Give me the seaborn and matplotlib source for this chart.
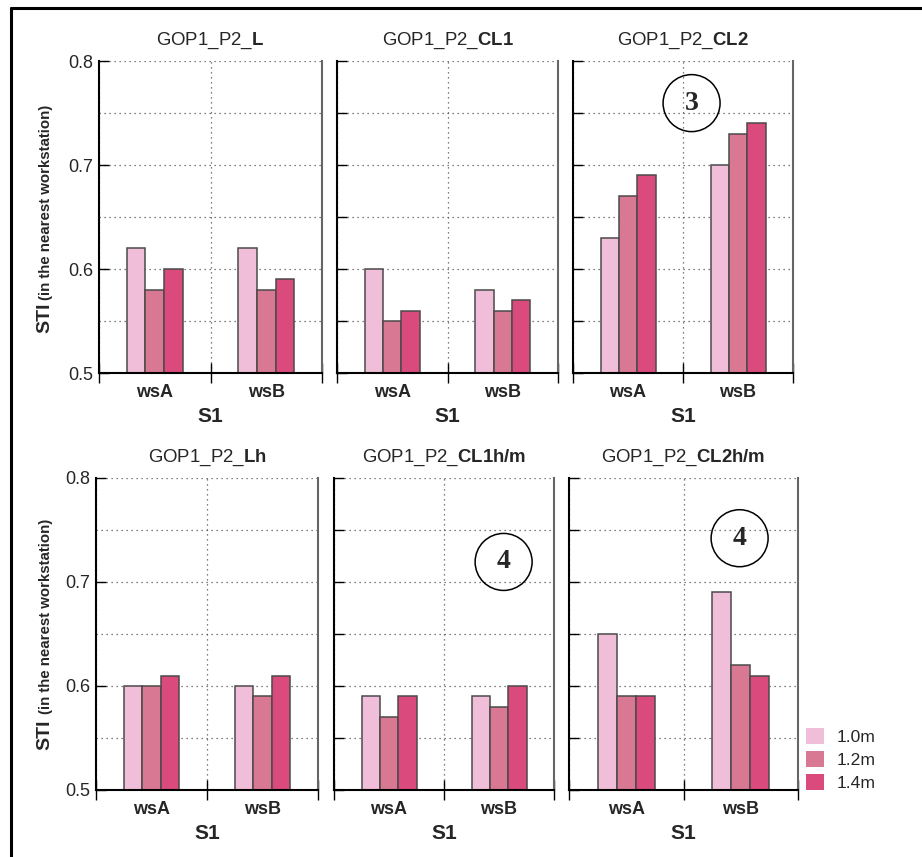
import matplotlib
matplotlib.use("Agg")
import numpy as np
import pandas as pd
import matplotlib.pyplot as plt
import seaborn as sns
from matplotlib.patches import Ellipse, Patch
from matplotlib.lines import Line2D
from matplotlib.ticker import FixedLocator

sns.set_theme(style="white")
plt.rcParams["font.family"] = ["Liberation Sans", "DejaVu Sans"]
plt.rcParams["mathtext.fontset"] = "custom"
plt.rcParams["mathtext.rm"] = "Liberation Sans"
plt.rcParams["mathtext.bf"] = "Liberation Sans:bold"

# ---- data -------------------------------------------------------------
workstations = ["wsA", "wsB"]
heights = ["1.0m", "1.2m", "1.4m"]
colors = ["#F0BED8", "#D97892", "#DB4A7C"]
configs = ["L", "CL1", "CL2", "Lh", "CL1h/m", "CL2h/m"]

# STI per workstation, one value per receiver height (1.0m, 1.2m, 1.4m)
sti_L = [[0.62, 0.58, 0.60], [0.62, 0.58, 0.59]]
sti_CL1 = [[0.60, 0.55, 0.56], [0.58, 0.56, 0.57]]
sti_CL2 = [[0.63, 0.67, 0.69], [0.70, 0.73, 0.74]]
sti_Lh = [[0.60, 0.60, 0.61], [0.60, 0.59, 0.61]]
sti_CL1hm = [[0.59, 0.57, 0.59], [0.59, 0.58, 0.60]]
sti_CL2hm = [[0.65, 0.59, 0.59], [0.69, 0.62, 0.61]]
panel_values = [sti_L, sti_CL1, sti_CL2, sti_Lh, sti_CL1hm, sti_CL2hm]

# circled group markers: panel index -> (label, x, y in axes fraction)
markers = {2: ("3", 0.539, 0.865), 4: ("4", 0.771, 0.731), 5: ("4", 0.745, 0.807)}

# ---- layout (pixels: left, top, width, height) -------------------------
W, H = 922, 857
boxes = [(99, 61, 223, 312), (337, 61, 221, 312), (573, 61, 220, 312),
         (96, 478, 222, 312), (334, 478, 220, 312), (569, 478, 229, 312)]

fig = plt.figure(figsize=(W / 100, H / 100), dpi=100)
fig.patch.set_facecolor("white")

grid_kw = dict(color="#555555", linestyle=(0, (1, 3)), linewidth=0.9)

for i, (cfg, vals, (l, t, w, h)) in enumerate(zip(configs, panel_values, boxes)):
    ax = fig.add_axes([l / W, 1 - (t + h) / H, w / W, h / H])
    df = pd.DataFrame({
        "ws": np.repeat(workstations, len(heights)),
        "height": heights * len(workstations),
        "sti": np.ravel(vals),
    })
    sns.barplot(data=df, x="ws", y="sti", hue="height", hue_order=heights,
                palette=colors, saturation=1, width=0.5, edgecolor="#4a4a4a",
                linewidth=1.1, legend=False, ax=ax)
    ax.set_xlim(-0.5, 1.5)
    ax.set_ylim(0.5, 0.8)
    ax.set_axisbelow(True)

    first_col = i in (0, 3)
    ax.yaxis.set_major_locator(FixedLocator([0.5, 0.6, 0.7, 0.8]))
    ax.yaxis.set_minor_locator(FixedLocator([0.55, 0.65, 0.75]))
    ax.grid(True, axis="y", which="both", **grid_kw)
    ax.tick_params(axis="y", which="major", direction="in", length=7,
                   width=1, color="black", left=True, right=False,
                   labelleft=first_col, labelsize=13, pad=4)
    ax.tick_params(axis="y", which="minor", direction="in",
                   length=0 if first_col else 7, width=1, color="black",
                   left=True, right=False)

    ax.xaxis.set_minor_locator(FixedLocator([-0.5, 0.5, 1.5]))
    ax.tick_params(axis="x", which="major", length=0, pad=8)
    ax.tick_params(axis="x", which="minor", direction="inout", length=14,
                   width=1, color="black", bottom=True)
    ax.grid(True, axis="x", which="minor", **grid_kw)
    ax.grid(False, axis="x", which="major")
    for lab in ax.get_xticklabels():
        lab.set_fontweight("bold")
        lab.set_fontsize(13)

    ax.set_xlabel("S1", fontsize=15, fontweight="bold", labelpad=4)
    ax.set_ylabel("")
    ax.set_title(r"GOP1_P2_$\bf{" + cfg + "}$", fontsize=13.4, pad=12)

    for side in ("left", "bottom"):
        ax.spines[side].set_color("black")
        ax.spines[side].set_linewidth(1.5)
    ax.spines["right"].set_color("#666666")
    ax.spines["right"].set_linewidth(1.5)
    ax.spines["top"].set_visible(False)

    if i in markers:
        txt, mx, my = markers[i]
        ax.add_patch(Ellipse((mx, my), 57 / w, 57 / h, transform=ax.transAxes,
                             fill=False, edgecolor="black", linewidth=1.1,
                             clip_on=False, zorder=5))
        ax.text(mx, my, txt, transform=ax.transAxes, ha="center", va="center",
                fontsize=20, fontweight="bold", family="Liberation Serif",
                zorder=6)

# ---- y-axis titles ---------------------------------------------------
for sti_bottom, paren_bottom in ((333, 300), (750, 714)):
    fig.text(44.5 / W, 1 - sti_bottom / H, "STI", rotation=90, ha="center",
             va="bottom", fontsize=14, fontweight="bold")
    fig.text(46 / W, 1 - paren_bottom / H, "(in the nearest workstation)",
             rotation=90, ha="center", va="bottom", fontsize=10.8,
             fontweight="bold")

# ---- legend ------------------------------------------------------------
handles = [Patch(facecolor=c, edgecolor="none", label=lab)
           for c, lab in zip(colors, heights)]
fig.legend(handles=handles, loc="upper left",
           bbox_to_anchor=(806 / W, 1 - 728 / H), frameon=False,
           fontsize=12.6, handlelength=1.0, handleheight=1.0,
           handletextpad=0.75, labelspacing=0.35, borderpad=0,
           borderaxespad=0)

# ---- outer frame ------------------------------------------------------
fig.add_artist(Line2D([11 / W, 11 / W], [0, 1 - 8 / H],
                      transform=fig.transFigure, color="black", lw=2.2))
fig.add_artist(Line2D([11 / W, 1], [1 - 8 / H, 1 - 8 / H],
                      transform=fig.transFigure, color="black", lw=2.2))

fig.savefig("out.png", dpi=100, facecolor="white")
